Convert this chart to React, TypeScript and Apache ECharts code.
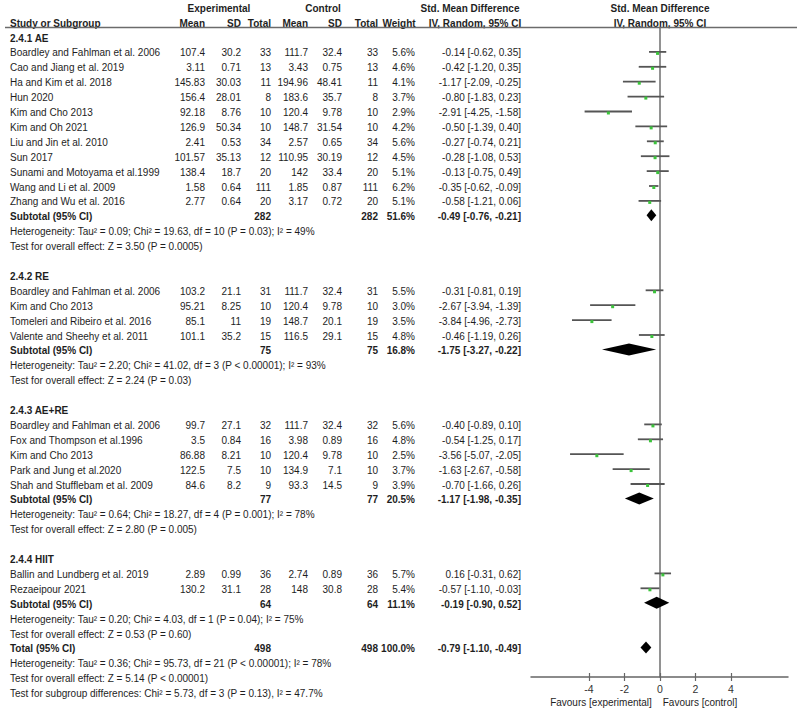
import React, { useEffect, useRef } from "react";
import * as echarts from "echarts";

// ---------- data ----------
const groupNames = ["2.4.1 AE", "2.4.2 RE", "2.4.3 AE+RE", "2.4.4 HIIT"];
const studyGroup = [0, 0, 0, 0, 0, 0, 0, 0, 0, 0, 0, 1, 1, 1, 1, 2, 2, 2, 2, 2, 3, 3];
const studyNames = [
  "Boardley and Fahlman et al. 2006", "Cao and Jiang et al. 2019", "Ha and Kim et al. 2018", "Hun 2020",
  "Kim and Cho 2013", "Kim and Oh 2021", "Liu and Jin et al. 2010", "Sun 2017",
  "Sunami and Motoyama et al.1999", "Wang and Li et al. 2009", "Zhang and Wu et al. 2016",
  "Boardley and Fahlman et al. 2006", "Kim and Cho 2013", "Tomeleri and Ribeiro et al. 2016", "Valente and Sheehy et al. 2011",
  "Boardley and Fahlman et al. 2006", "Fox and Thompson et al.1996", "Kim and Cho 2013", "Park and Jung et al.2020", "Shah and Stufflebam et al. 2009",
  "Ballin and Lundberg et al. 2019", "Rezaeipour 2021",
];
const expMean = [107.4, 3.11, 145.83, 156.4, 92.18, 126.9, 2.41, 101.57, 138.4, 1.58, 2.77, 103.2, 95.21, 85.1, 101.1, 99.7, 3.5, 86.88, 122.5, 84.6, 2.89, 130.2];
const expSD = [30.2, 0.71, 30.03, 28.01, 8.76, 50.34, 0.53, 35.13, 18.7, 0.64, 0.64, 21.1, 8.25, 11, 35.2, 27.1, 0.84, 8.21, 7.5, 8.2, 0.99, 31.1];
const expN = [33, 13, 11, 8, 10, 10, 34, 12, 20, 111, 20, 31, 10, 19, 15, 32, 16, 10, 10, 9, 36, 28];
const ctlMean = [111.7, 3.43, 194.96, 183.6, 120.4, 148.7, 2.57, 110.95, 142, 1.85, 3.17, 111.7, 120.4, 148.7, 116.5, 111.7, 3.98, 120.4, 134.9, 93.3, 2.74, 148];
const ctlSD = [32.4, 0.75, 48.41, 35.7, 9.78, 31.54, 0.65, 30.19, 33.4, 0.87, 0.72, 32.4, 9.78, 20.1, 29.1, 32.4, 0.89, 9.78, 7.1, 14.5, 0.89, 30.8];
const ctlN = [33, 13, 11, 8, 10, 10, 34, 12, 20, 111, 20, 31, 10, 19, 15, 32, 16, 10, 10, 9, 36, 28];
const weight = [5.6, 4.6, 4.1, 3.7, 2.9, 4.2, 5.6, 4.5, 5.1, 6.2, 5.1, 5.5, 3.0, 3.5, 4.8, 5.6, 4.8, 2.5, 3.7, 3.9, 5.7, 5.4];
const smd = [-0.14, -0.42, -1.17, -0.8, -2.91, -0.5, -0.27, -0.28, -0.13, -0.35, -0.58, -0.31, -2.67, -3.84, -0.46, -0.4, -0.54, -3.56, -1.63, -0.7, 0.16, -0.57];
const smdLo = [-0.62, -1.2, -2.09, -1.83, -4.25, -1.39, -0.74, -1.08, -0.75, -0.62, -1.21, -0.81, -3.94, -4.96, -1.19, -0.89, -1.25, -5.07, -2.67, -1.66, -0.31, -1.1];
const smdHi = [0.35, 0.35, -0.25, 0.23, -1.58, 0.4, 0.21, 0.53, 0.49, -0.09, 0.06, 0.19, -1.39, -2.73, 0.26, 0.1, 0.17, -2.05, -0.58, 0.26, 0.62, -0.03];

const subN = [282, 75, 77, 64];
const subWeight = [51.6, 16.8, 20.5, 11.1];
const subSmd = [-0.49, -1.75, -1.17, -0.19];
const subLo = [-0.76, -3.27, -1.98, -0.9];
const subHi = [-0.21, -0.22, -0.35, 0.52];
const subHet = [
  "Heterogeneity: Tau² = 0.09; Chi² = 19.63, df = 10 (P = 0.03); I² = 49%",
  "Heterogeneity: Tau² = 2.20; Chi² = 41.02, df = 3 (P < 0.00001); I² = 93%",
  "Heterogeneity: Tau² = 0.64; Chi² = 18.27, df = 4 (P = 0.001); I² = 78%",
  "Heterogeneity: Tau² = 0.20; Chi² = 4.03, df = 1 (P = 0.04); I² = 75%",
];
const subTest = [
  "Test for overall effect: Z = 3.50 (P = 0.0005)",
  "Test for overall effect: Z = 2.24 (P = 0.03)",
  "Test for overall effect: Z = 2.80 (P = 0.005)",
  "Test for overall effect: Z = 0.53 (P = 0.60)",
];
const totalN = 498;
const totalWeight = 100.0;
const totalSmd = -0.79;
const totalLo = -1.1;
const totalHi = -0.49;
const totalNotes = [
  "Heterogeneity: Tau² = 0.36; Chi² = 95.73, df = 21 (P < 0.00001); I² = 78%",
  "Test for overall effect: Z = 5.14 (P < 0.00001)",
  "Test for subgroup differences: Chi² = 5.73, df = 3 (P = 0.13), I² = 47.7%",
];
const tickValues = [-4, -2, 0, 2, 4];

// ---------- layout ----------
const LINE = 14.9;
const Y0 = 38;
const rowY = (k: number) => Y0 + LINE * k;
const PLOT_TOP = 28;
const PLOT_BOTTOM = 677;
const PLOT_LEFT = 531;
const PLOT_RIGHT = 788;
const X_MIN = -7.27;
const X_MAX = 7.21;
const FONT = "'Liberation Sans', Arial, Helvetica, sans-serif";
const FS = 10;
const TXT = "#1e1e1e";

const fmtCI = (m: number, lo: number, hi: number) => `${m.toFixed(2)} [${lo.toFixed(2)}, ${hi.toFixed(2)}]`;

export default function App() {
  const ref = useRef<HTMLDivElement>(null);
  useEffect(() => {
    if (!ref.current) return;
    const chart = echarts.init(ref.current, null, { renderer: "svg" });

    const texts: any[] = [];
    const t = (text: string, x: number, k: number, align: string, bold = false) => {
      texts.push({
        type: "text",
        x,
        y: rowY(k),
        silent: true,
        style: {
          text,
          fill: TXT,
          fontSize: FS,
          fontFamily: FONT,
          fontWeight: bold ? "bold" : "normal",
          textAlign: align,
          textVerticalAlign: "middle",
        },
      });
    };
    const cols = { eM: 205, eSD: 241, eN: 271, cM: 308, cSD: 342, cN: 378, w: 415, ci: 521 };

    // headers
    t("Experimental", 219, -2, "center", true);
    t("Control", 323, -2, "center", true);
    t("Std. Mean Difference", 470, -2, "center", true);
    t("Std. Mean Difference", 660, -2, "center", true);
    t("Study or Subgroup", 10, -1, "left", true);
    t("Mean", cols.eM, -1, "right", true);
    t("SD", cols.eSD, -1, "right", true);
    t("Total", cols.eN, -1, "right", true);
    t("Mean", cols.cM, -1, "right", true);
    t("SD", cols.cSD, -1, "right", true);
    t("Total", cols.cN, -1, "right", true);
    t("Weight", 399, -1, "center", true);
    t("IV, Random, 95% CI", 475, -1, "center", true);
    t("IV, Random, 95% CI", 660, -1, "center", true);

    const studyData: any[] = [];
    const diamondData: any[] = [];
    let k = 0;
    for (let g = 0; g < groupNames.length; g++) {
      t(groupNames[g], 10, k, "left", true);
      k++;
      for (let i = 0; i < studyNames.length; i++) {
        if (studyGroup[i] !== g) continue;
        t(studyNames[i], 10, k, "left");
        t(String(expMean[i]), cols.eM, k, "right");
        t(String(expSD[i]), cols.eSD, k, "right");
        t(String(expN[i]), cols.eN, k, "right");
        t(String(ctlMean[i]), cols.cM, k, "right");
        t(String(ctlSD[i]), cols.cSD, k, "right");
        t(String(ctlN[i]), cols.cN, k, "right");
        t(weight[i].toFixed(1) + "%", cols.w, k, "right");
        t(fmtCI(smd[i], smdLo[i], smdHi[i]), cols.ci, k, "right");
        studyData.push([k, smd[i], smdLo[i], smdHi[i]]);
        k++;
      }
      t("Subtotal (95% CI)", 10, k, "left", true);
      t(String(subN[g]), cols.eN, k, "right", true);
      t(String(subN[g]), cols.cN, k, "right", true);
      t(subWeight[g].toFixed(1) + "%", cols.w, k, "right", true);
      t(fmtCI(subSmd[g], subLo[g], subHi[g]), cols.ci, k, "right", true);
      diamondData.push([k, subSmd[g], subLo[g], subHi[g]]);
      t(subHet[g], 10, k + 1, "left");
      t(subTest[g], 10, k + 2, "left");
      k += 4;
    }
    k -= 1;
    t("Total (95% CI)", 10, k, "left", true);
    t(String(totalN), cols.eN, k, "right", true);
    t(String(totalN), cols.cN, k, "right", true);
    t(totalWeight.toFixed(1) + "%", cols.w, k, "right", true);
    t(fmtCI(totalSmd, totalLo, totalHi), cols.ci, k, "right", true);
    diamondData.push([k, totalSmd, totalLo, totalHi]);
    totalNotes.forEach((s, j) => t(s, 10, k + 1 + j, "left"));

    // Favours labels
    texts.push({
      type: "text", x: 601, y: 702, silent: true,
      style: { text: "Favours [experimental]", fill: TXT, fontSize: FS, fontFamily: FONT, textAlign: "center", textVerticalAlign: "middle" },
    });
    texts.push({
      type: "text", x: 700, y: 702, silent: true,
      style: { text: "Favours [control]", fill: TXT, fontSize: FS, fontFamily: FONT, textAlign: "center", textVerticalAlign: "middle" },
    });
    // header rule
    texts.push({
      type: "line", silent: true,
      shape: { x1: 5, y1: 27.5, x2: 797, y2: 27.5 },
      style: { stroke: "#6b6b6b", lineWidth: 1.5 },
    });

    const yMin = (PLOT_TOP - Y0) / LINE;
    const yMax = (PLOT_BOTTOM - Y0) / LINE;

    const option: any = {
      animation: false,
      backgroundColor: "#ffffff",
      grid: {
        left: PLOT_LEFT,
        top: PLOT_TOP,
        width: PLOT_RIGHT - PLOT_LEFT,
        height: PLOT_BOTTOM - PLOT_TOP,
        containLabel: false,
      },
      xAxis: [
        {
          type: "value",
          min: X_MIN,
          max: X_MAX,
          position: "bottom",
          splitLine: { show: false },
          axisLine: { show: true, onZero: false, lineStyle: { color: "#666", width: 1.5 } },
          axisTick: { show: true, length: 4, customValues: tickValues, lineStyle: { color: "#666", width: 1.2 } },
          axisLabel: { show: true, customValues: tickValues, fontSize: 10.5, fontFamily: FONT, color: "#333", margin: 6 },
        },
        {
          type: "value",
          min: X_MIN,
          max: X_MAX,
          position: "bottom",
          splitLine: { show: false },
          axisLine: { show: false, onZero: false },
          axisTick: { show: true, inside: true, length: 4, customValues: tickValues, lineStyle: { color: "#666", width: 1.2 } },
          axisLabel: { show: false },
        },
      ],
      yAxis: {
        type: "value",
        inverse: true,
        min: yMin,
        max: yMax,
        splitLine: { show: false },
        axisTick: { show: false },
        axisLabel: { show: false },
        axisLine: { show: true, onZero: true, onZeroAxisIndex: 0, lineStyle: { color: "#6e6e6e", width: 1.5 } },
      },
      series: [
        {
          type: "custom",
          name: "studies",
          xAxisIndex: 0,
          data: studyData,
          encode: { x: [1, 2, 3], y: 0 },
          renderItem: (params: any, api: any) => {
            const kk = api.value(0);
            const m = api.value(1);
            const lo = api.value(2);
            const hi = api.value(3);
            const p1 = api.coord([lo, kk]);
            const p2 = api.coord([hi, kk]);
            const pm = api.coord([m, kk]);
            return {
              type: "group",
              children: [
                {
                  type: "line",
                  shape: { x1: p1[0], y1: p1[1] - 1, x2: p2[0], y2: p2[1] - 1 },
                  style: { stroke: "#555555", lineWidth: 1.8 },
                },
                {
                  type: "rect",
                  shape: { x: pm[0] - 1.5, y: pm[1] - 1, width: 3, height: 3 },
                  style: { fill: "#3cc43c" },
                },
              ],
            };
          },
        },
        {
          type: "custom",
          name: "pooled",
          xAxisIndex: 0,
          data: diamondData,
          encode: { x: [1, 2, 3], y: 0 },
          renderItem: (params: any, api: any) => {
            const kk = api.value(0);
            const m = api.value(1);
            const lo = api.value(2);
            const hi = api.value(3);
            const pl = api.coord([lo, kk]);
            const ph = api.coord([hi, kk]);
            const pm = api.coord([m, kk]);
            const h = 6;
            const yc = pm[1] - 1.5;
            return {
              type: "polygon",
              shape: { points: [[pl[0], yc], [pm[0], yc - h], [ph[0], yc], [pm[0], yc + h]] },
              style: { fill: "#000000" },
            };
          },
        },
      ],
      graphic: texts,
    };
    chart.setOption(option);
    return () => chart.dispose();
  }, []);

  return (
    <div
      ref={ref}
      style={{ position: "fixed", left: 0, top: 0, width: 800, height: 718, background: "#fff" }}
    />
  );
}
